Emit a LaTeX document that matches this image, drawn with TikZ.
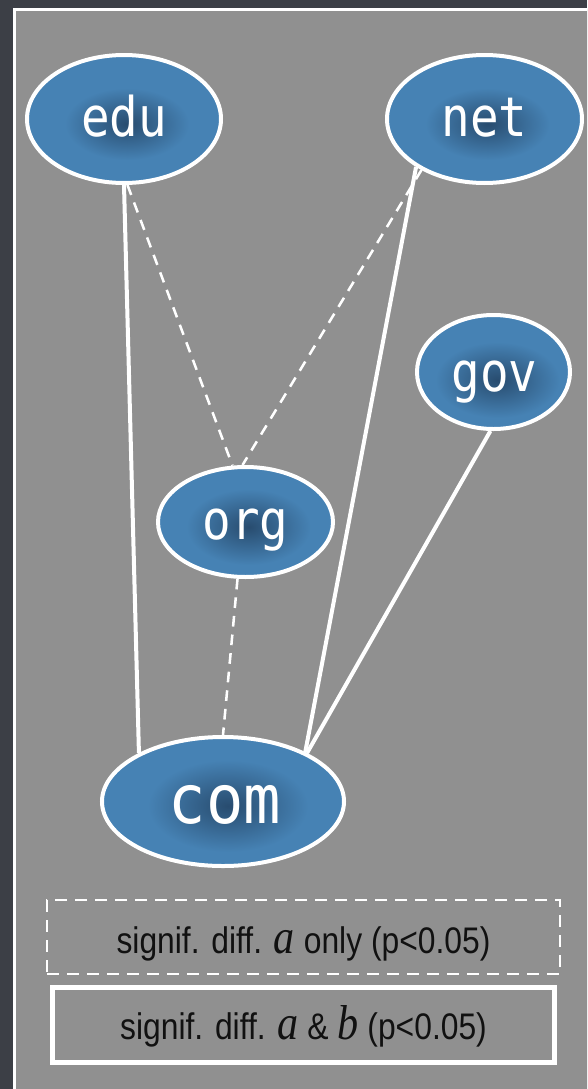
\documentclass[tikz,border=0pt]{standalone}
\usepackage{fontspec}
\setmainfont{Liberation Sans}
\newfontfamily\labelfont{DejaVu Sans Mono}
\newfontfamily\varfont{Liberation Serif}
\usetikzlibrary{shapes.geometric}

\definecolor{outerbg}{HTML}{3C3F46}
\definecolor{panelgray}{HTML}{909090}
\definecolor{domainblue}{HTML}{4682B4}
\definecolor{glow}{HTML}{1E3A58}
\definecolor{legendink}{HTML}{111111}

\tikzset{
  tldnode/.style={ellipse, draw=white, line width=3pt, fill=domainblue, inner sep=0pt},
  labeltext/.style={inner sep=0pt, anchor=base, text=white, xscale=0.87},
  strong/.style={draw=white, line width=3pt},
  weak/.style={draw=white, line width=1.9pt, dash pattern=on 8pt off 6pt},
  legendtext/.style={inner sep=0pt, anchor=base, text=legendink, xscale=0.86,
    font=\fontsize{27.75}{30}\selectfont},
  textglow/.style={inner color=glow!75!domainblue, outer color=domainblue},
}

% soft dark glow under a label: centre x, centre y, half width, half height
\newcommand\glowpatch[4]{%
  \shade[textglow] (#1+3,#2+4) ellipse [x radius=#3, y radius=#4];}
\newcommand\var[1]{{\varfont\itshape\fontsize{36.75}{40}\selectfont #1}}

\begin{document}
\begin{tikzpicture}[x=0.75pt, y=-0.75pt]
  \useasboundingbox (0,0) rectangle (587,1089);
  \clip (0,0) rectangle (587,1089);
  \fill[outerbg] (0,0) rectangle (587,1089);

  % framed panel
  \draw[white, line width=2.25pt, fill=panelgray] (14.5,9) rectangle (640,1140);

  % top-level domains
  \node[tldnode, minimum width=145.5pt, minimum height=96pt]   (edu) at (124,119) {};
  \node[tldnode, minimum width=146.25pt, minimum height=96pt]  (net) at (484.5,119) {};
  \node[tldnode, minimum width=114.75pt, minimum height=85.5pt] (gov) at (493.5,372) {};
  \node[tldnode, minimum width=131.25pt, minimum height=82.5pt] (org) at (245.5,522) {};
  \node[tldnode, minimum width=181.5pt, minimum height=96.75pt] (com) at (223,801.5) {};

  % glow behind the labels
  \glowpatch{124}{120}{62}{36}
  \glowpatch{484.5}{120}{62}{36}
  \glowpatch{494.5}{376}{62}{38}
  \glowpatch{245.5}{523}{62}{38}
  \glowpatch{225}{802}{80}{46}

  % links
  \draw[strong] (edu.270) -- (com.150);
  \draw[weak]   (edu.273) -- (org.103);
  \draw[weak]   (net.219) -- (org.93);
  \draw[strong] (net.215) -- (com.31);
  \draw[strong] (gov.267) -- (com.30);
  \draw[weak]   (org.262) -- (com.90);

  % labels
  \node[labeltext, font=\labelfont\fontsize{41}{41}\selectfont] (edu-text) at (124,136) {edu};
  \node[labeltext, font=\labelfont\fontsize{41}{41}\selectfont] (net-text) at (484.5,136) {net};
  \node[labeltext, font=\labelfont\fontsize{41}{41}\selectfont] (gov-text) at (494.5,391) {gov};
  \node[labeltext, font=\labelfont\fontsize{41}{41}\selectfont] (org-text) at (245.5,539) {org};
  \node[labeltext, font=\labelfont\fontsize{51}{51}\selectfont, xscale=1.05] (com-text) at (225,823) {com};

  % legend
  \node[draw=white, line width=1.9pt, dash pattern=on 9pt off 6pt,
    minimum width=384.75pt, minimum height=55.5pt, inner sep=0pt] (legend-weak) at (303.5,937) {};
  \node[draw=white, line width=3.75pt,
    minimum width=376.5pt, minimum height=56.25pt, inner sep=0pt] (legend-strong) at (303,1025) {};
  \node[legendtext] (legend-weak-text) at (303.5,953)
    {signif. diff. \var{a} only (p<0.05)};
  \node[legendtext] (legend-strong-text) at (303.5,1039)
    {signif. diff. \var{a} \& \var{b} (p<0.05)};
\end{tikzpicture}
\end{document}
